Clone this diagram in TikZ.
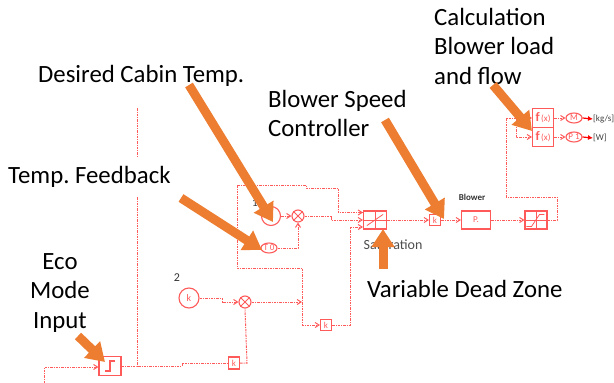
\documentclass[tikz,border=0pt]{standalone}
\usepackage{fontspec}
\setmainfont{Carlito}
\usepackage{xcolor}
\usetikzlibrary{arrows.meta,positioning,calc,shapes.geometric}

\definecolor{sigred}{HTML}{FF5A5A}
\definecolor{calloutorange}{HTML}{ED7D31}

\tikzset{
  sigline/.style={draw=sigred, line width=1pt, dash pattern=on 2.5pt off 1pt on 1pt off 1pt},
  sigarrow/.style={sigline, -{Straight Barb[length=4pt,width=5pt,sharp]}},
  blockbox/.style={draw=sigred, line width=1.1pt, inner sep=0pt, text=sigred, font=\fontsize{9}{9}\selectfont},
  sumnode/.style={circle, draw=sigred, line width=1.1pt, minimum size=12pt, inner sep=0pt},
  sourcenode/.style={circle, draw=sigred, line width=1.1pt, inner sep=0pt, text=sigred, font=\fontsize{10}{10}\selectfont},
  readnode/.style={ellipse, draw=sigred, line width=1.1pt, minimum width=16pt, minimum height=10pt, inner sep=0pt, text=sigred, font=\fontsize{9}{9}\selectfont},
  callout/.style={draw=calloutorange, line width=9pt, -{Triangle[length=18pt,width=22pt]}},
  calltext/.style={font=\fontsize{24.8}{29.5}\selectfont\frenchspacing, text=black, inner sep=0pt},
  unitlabel/.style={font=\fontsize{9}{9}\selectfont, text=black!75, inner sep=0pt, anchor=west}
}

\begin{document}
\begin{tikzpicture}[x=1pt, y=-1pt]
  \useasboundingbox (0,0) rectangle (614,383);

  % Upper summing stage
  \node[sourcenode, minimum size=19pt] (src1) at (271,216) {};
  \node[sumnode] (sum1) at (298,216) {};
  \draw[sigred, line width=0.9pt] (sum1.north west) -- (sum1.south east) (sum1.north east) -- (sum1.south west);
  \node[readnode] (temp0) at (269,248) {T 0};
  \node[font=\fontsize{11}{11}\selectfont, text=black!80, inner sep=0pt] (num1) at (255,203) {1};

  % Lower summing stage
  \node[sourcenode, minimum size=20pt] (src2) at (189,298) {k};
  \node[font=\fontsize{12}{12}\selectfont, text=black!80, inner sep=0pt] (num2) at (177,278) {2};
  \node[sumnode] (sum2) at (245,302) {};
  \draw[sigred, line width=0.9pt] (sum2.north west) -- (sum2.south east) (sum2.north east) -- (sum2.south west);
  \node[blockbox, minimum width=11pt, minimum height=11pt] (gain2) at (326,325) {k};
  \node[blockbox, minimum width=11pt, minimum height=12pt] (gain3) at (234,363) {k};

  % Forward path
  \node[blockbox, minimum width=23pt, minimum height=18pt] (sat1) at (375,220) {};
  \draw[sigred, line width=0.8pt] (sat1.north) -- (sat1.south) (sat1.west) -- (sat1.east);
  \draw[sigred, line width=0.8pt] ($(sat1.south west)+(4,-4)$) -- ($(sat1.north east)+(-4,4)$);
  \node[blockbox, minimum width=11pt, minimum height=11pt] (gain1) at (435,220) {k};
  \node[blockbox, minimum width=29pt, minimum height=18pt] (blower) at (476,220) {P.};
  \node[blockbox, minimum width=22pt, minimum height=18pt] (sat2) at (536,220) {};
  \draw[sigred, line width=0.8pt] (sat2.north) -- (sat2.south) (sat2.west) -- (sat2.east);
  \draw[sigred, line width=0.8pt] ($(sat2.south west)+(2,-3)$) -- ++(5,0) -- ++(8,-12) -- ++(5,0);
  \node[font=\fontsize{9}{9}\selectfont\bfseries, text=black!80, inner sep=0pt] (blowerlabel) at (472,197) {Blower};
  \node[font=\fontsize{14}{14}\selectfont, text=black!70, inner sep=0pt] (satlabel) at (393,245) {Saturation};

  % Load and flow
  \node[blockbox, minimum width=21pt, minimum height=19pt] (fload) at (543,118) {\textbf{\fontsize{13}{13}\selectfont f}\,(x)};
  \node[blockbox, minimum width=21pt, minimum height=19pt] (fflow) at (543,137) {\textbf{\fontsize{13}{13}\selectfont f}\,(x)};
  \node[readnode] (readm) at (574,118) {M};
  \node[readnode] (readp) at (574,137) {P 1};
  \node[unitlabel] (unitkg) at (593,119) {[kg/s]};
  \node[unitlabel] (unitw) at (593,138) {[W]};

  % Eco mode switch
  \node[blockbox, minimum width=22pt, minimum height=19pt] (switch) at (110,366) {};
  \draw[sigred, line width=1.1pt] ($(switch.center)+(-5,5)$) -- ++(5,0) -- ++(0,-10) -- ++(5,0);

  \coordinate (feedtop) at (137,108);
  \coordinate (feedgap) at (137,157);
  \coordinate (feedlow) at (137,197);
  \coordinate (feedbase) at (137,366);
  \coordinate (ecostart) at (44,383);
  \coordinate (ecoturn) at (44,367);
  \coordinate (sat1a) at (363,212.5);
  \coordinate (sat1c) at (363,227);
  \coordinate (feedback) at (302,302);
  \coordinate (looptop) at (237,185);
  \coordinate (loopleft) at (237,268);
  \coordinate (loopright) at (302,268);
  \coordinate (flowsplit) at (516,118);

  % Signal lines
  \draw[sigline] (feedtop) -- (feedgap);
  \draw[sigline] (feedlow) -- (feedbase);
  \draw[sigarrow] (ecostart) -- (ecoturn) -- (switch.west |- ecoturn);
  \draw[sigline] (switch.east) -- (feedbase) -- (182,366) -- (182,363) -- (gain3.west);
  \draw[sigline] (gain3.east) -- (247,363) -- (sum2.south);
  \draw[sigarrow] (src2.east) -- (222,298) -- (222,302) -- (sum2.west);
  \draw[sigarrow] (sum2.east) -- (feedback);
  \draw[sigarrow] (src1.east) -- (sum1.west);
  \draw[sigarrow] (temp0.east) -- (298,248) -- (sum1.south);
  \draw[sigarrow] (sum1.east) -- (331,216) -- (331,220) -- (sat1.west);
  \draw[sigarrow] (looptop) -- (306,185) -- (306,188) -- (338,188) -- (338,212.5) -- (sat1a);
  \draw[sigline] (looptop) -- (loopleft) -- (loopright) -- (feedback);
  \draw[sigarrow] (feedback) |- (gain2.west);
  \draw[sigarrow] (gain2.east) -- (350,325) -- (350,227) -- (sat1c);
  \draw[sigarrow] (sat1.east) -- (gain1.west);
  \draw[sigarrow] (gain1.east) -- (blower.west);
  \draw[sigarrow] (blower.east) -- (sat2.west);
  \draw[sigarrow] (sat2.east) -- (557,220) -- (557,197) -- (506,197) -- (506,118) -- (fload.west);
  \draw[sigarrow] (flowsplit) -- (516,137) -- (fflow.west);
  \draw[sigarrow] (fload.east) -- (readm.west);
  \draw[sigarrow] (fflow.east) -- (readp.west);
  \draw[draw=red, line width=1.2pt, -{Latex[length=5pt,width=5pt]}] (readm.east) -- (unitkg.west);
  \draw[draw=red, line width=1.2pt, -{Latex[length=5pt,width=5pt]}] (readp.east) -- (unitw.west);

  % Callout texts
  \node[calltext, align=left, anchor=north west] (calctext) at (434,8) {Calculation\\Blower load\\and flow};
  \node[calltext, anchor=west] (cabintext) at (38,76) {Desired Cabin Temp.};
  \node[calltext, align=left, anchor=north west] (speedtext) at (268,90) {Blower Speed\\Controller};
  \node[calltext, anchor=west] (feedtext) at (8,177) {Temp. Feedback};
  \node[calltext, align=center, anchor=north] (ecotext) at (60,253) {Eco\\Mode\\Input};
  \node[calltext, anchor=west] (zonetext) at (367,289) {Variable Dead Zone};

  % Orange callout arrows
  \coordinate (cabintail) at (189,85);
  \coordinate (cabintip) at (273,222);
  \coordinate (feedtail) at (181,198);
  \coordinate (feedtip) at (262,250);
  \coordinate (speedtail) at (385,120);
  \coordinate (speedtip) at (444,219);
  \coordinate (zonetail) at (383,269);
  \coordinate (zonetip) at (383,229);
  \coordinate (calctail) at (493,85);
  \coordinate (calctip) at (532,131);
  \coordinate (ecotail) at (78,336);
  \coordinate (ecotip) at (105,362);
  \draw[callout] (cabintail) -- (cabintip);
  \draw[callout] (feedtail) -- (feedtip);
  \draw[callout] (speedtail) -- (speedtip);
  \draw[callout] (zonetail) -- (zonetip);
  \draw[callout] (calctail) -- (calctip);
  \draw[callout] (ecotail) -- (ecotip);
\end{tikzpicture}
\end{document}
